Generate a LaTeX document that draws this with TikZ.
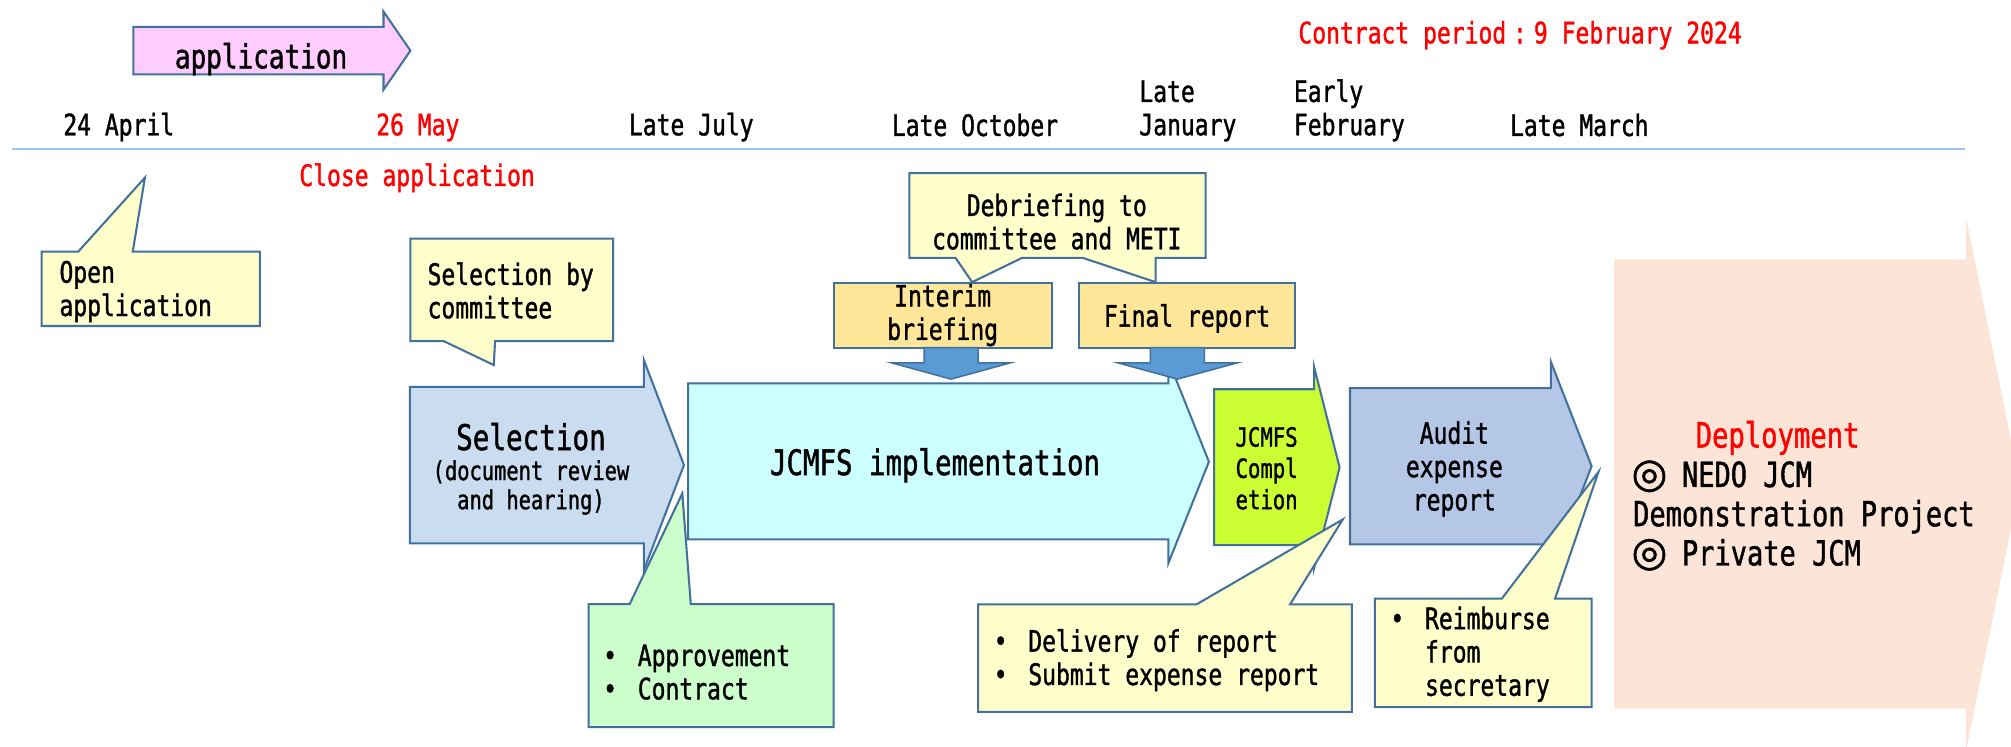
\documentclass[tikz,border=0pt]{standalone}
\usepackage{fontspec}
\usepackage{tikz}
\newfontfamily\gothic[FakeStretch=0.78, FakeBold=1.2]{DejaVu Sans Mono}
\newfontfamily\symfont[FakeBold=1.2]{DejaVu Sans}
\newcommand\gfont[2]{\gothic\fontsize{#1}{#2}\selectfont}
\newcommand\blt{\makebox[0.94em]{•}\ }
\newcommand\bltgap{\hspace*{1.41em}}
\newcommand\dcirc{\makebox[0.94em]{\symfont\fontsize{16}{15.3}\selectfont ◎}\ }
\definecolor{edgeblue}{HTML}{41719C}
\definecolor{lineblue}{HTML}{9DC3E6}
\definecolor{noteyellow}{HTML}{FFFFCC}
\definecolor{notegreen}{HTML}{CCFFCC}
\definecolor{applpink}{HTML}{FFCCFF}
\definecolor{selblue}{HTML}{C9DCF0}
\definecolor{implcyan}{HTML}{CCFFFF}
\definecolor{compllime}{HTML}{CCFF33}
\definecolor{auditblue}{HTML}{B4C7E7}
\definecolor{deppink}{HTML}{FCE4D6}
\definecolor{reportorange}{HTML}{FFE699}
\definecolor{downblue}{HTML}{5B9BD5}
\definecolor{datered}{HTML}{FF0000}
\tikzstyle{stage} = [draw=edgeblue, line width=0.8pt, line join=miter]
\tikzstyle{notebox} = [draw=edgeblue, fill=noteyellow, line width=0.8pt, line join=miter]
\tikzstyle{reportbox} = [draw=edgeblue, fill=reportorange, line width=0.8pt]
\tikzstyle{downarrow} = [draw=edgeblue, fill=downblue, line width=0.6pt, line join=miter]
\tikzstyle{txt} = [inner sep=0pt, anchor=base west, align=left, font=\gfont{11.5}{13}]
\tikzstyle{redtxt} = [txt, text=datered]

\begin{document}
\begin{tikzpicture}[x=0.5pt, y=-0.5pt]
                \useasboundingbox (0,0) rectangle (1568,582);
                \fill[white] (0,0) rectangle (1568,582);
                \draw[stage, fill=applpink] (104,21) -- (299,21) -- (299,9) -- (320,39.5) -- (299,70) -- (299,58) -- (104,58) -- cycle;
                \coordinate (tl-west) at (9,116);
                \coordinate (tl-east) at (1532,116);
                \draw[lineblue, line width=0.8pt] (tl-west) -- (tl-east);
                \fill[deppink] (1258.5,202.2) -- (1533,202.2) -- (1533,170.2) -- (1575,377.5) -- (1533,584.8) -- (1533,552.6) -- (1258.5,552.6) -- cycle;
                \draw[stage, fill=selblue] (319.6,301.7) -- (502,301.7) -- (502,280.7) -- (533.3,362.6) -- (502,444.5) -- (502,423.6) -- (319.6,423.6) -- cycle;
                \draw[stage, fill=implcyan] (536.5,299) -- (911,299) -- (911,281) -- (942.6,360) -- (911,439) -- (911,420.5) -- (536.5,420.5) -- cycle;
                \draw[stage, fill=compllime] (946.6,303.5) -- (1024.6,303.5) -- (1024.6,286) -- (1044.5,364.5) -- (1024.6,443) -- (1024.6,425) -- (946.6,425) -- cycle;
                \draw[stage, fill=auditblue] (1052.6,302.6) -- (1209.2,302.6) -- (1209.2,282) -- (1241,363.5) -- (1209.2,445) -- (1209.2,424.5) -- (1052.6,424.5) -- cycle;
                \draw[notebox] (709,135) -- (940,135) -- (940,201) -- (901,201) -- (901,220) -- (844,201) -- (797,201) -- (758,220) -- (745,201) -- (709,201) -- cycle;
                \draw[reportbox] (650,221) rectangle (820,271);
                \draw[reportbox] (841,221) rectangle (1010,271);
                \draw[downarrow] (720.5,271) -- (762.6,271) -- (762.6,283) -- (787.5,283) -- (741.5,295.6) -- (695.5,283) -- (720.5,283) -- cycle;
                \draw[downarrow] (897,271) -- (939,271) -- (939,283) -- (964.5,283) -- (918,295.6) -- (872,283) -- (897,283) -- cycle;
                \draw[notebox] (32.5,196.2) -- (61,196.2) -- (113,138.5) -- (103.5,196.2) -- (202.7,196.2) -- (202.7,254.2) -- (32.5,254.2) -- cycle;
                \draw[notebox] (320,186) -- (478,186) -- (478,266) -- (386,266) -- (385,284.6) -- (346,266) -- (320,266) -- cycle;
                \draw[notebox, fill=notegreen] (459,471) -- (491,471) -- (532,384.7) -- (538.6,471) -- (650,471) -- (650,567) -- (459,567) -- cycle;
                \draw[notebox] (762.7,471.2) -- (933,471.2) -- (1047,405) -- (1005.9,471.2) -- (1054,471.2) -- (1054,555) -- (762.7,555) -- cycle;
                \draw[notebox] (1072,466.7) -- (1171,466.7) -- (1246.3,368) -- (1212.5,466.7) -- (1241,466.7) -- (1241,551.3) -- (1072,551.3) -- cycle;
                \node[txt, font=\gfont{13}{15}] (appl) at (136,53.3) {application};
                \node[txt] (dApr) at (49,105.5) {24 April};
                \node[redtxt] (dMay) at (293,105.5) {26 May};
                \node[txt] (dJul) at (490,105.5) {Late July};
                \node[txt] (dOct) at (695,106) {Late October};
                \node[txt] (dJan) at (888,105.5) {Late\\January};
                \node[txt] (dFeb) at (1008.5,105.5) {Early\\February};
                \node[txt] (dMar) at (1177,106) {Late March};
                \node[redtxt] (contract) at (1012,33.8) {Contract period\makebox[0.94em]{:}9 February 2024};
                \node[redtxt] (closeapp) at (233,145) {Close application};
                \node[txt] (openapp) at (46,246.4) {Open\\application};
                \node[txt] (selcomm) at (333,248.2) {Selection by\\committee};
                \node[txt, anchor=base, align=center] (debrief) at (824,194.4) {Debriefing to\\committee and METI};
                \node[txt, anchor=base, align=center] (interim) at (735,265) {Interim\\briefing};
                \node[txt, anchor=base] (final) at (925.5,254.7) {Final report};
                \node[txt, anchor=base, font=\gfont{13.8}{15}] (seltitle) at (414,350.9) {Selection};
                \node[txt, anchor=base, align=center, font=\gfont{10.2}{11.35}] (selsub) at (414,397) {(document review\\and hearing)};
                \node[txt, font=\gfont{13.7}{15}] (impl) at (600,370.4) {JCMFS implementation};
                \node[txt, font=\gfont{10.3}{12.2}] (compl) at (963,397) {JCMFS\\Compl\\etion};
                \node[txt, anchor=base, align=center] (audit) at (1134,398) {Audit\\expense\\report};
                \node[redtxt, anchor=base, font=\gfont{13.6}{15}] (deptitle) at (1386,349) {Deployment};
                \node[txt, font=\gfont{13.5}{15.3}] (deplist) at (1273,440.9) {\dcirc NEDO JCM\\Demonstration Project\\\dcirc Private JCM};
                \node[txt] (approve) at (464.5,545.3) {\blt Approvement\\\blt Contract};
                \node[txt] (deliver) at (769,534.1) {\blt Delivery of report\\\blt Submit expense report};
                \node[txt] (reimb) at (1078.3,542.5) {\blt Reimburse\\\bltgap from\\\bltgap secretary};
            \end{tikzpicture}
\end{document}
